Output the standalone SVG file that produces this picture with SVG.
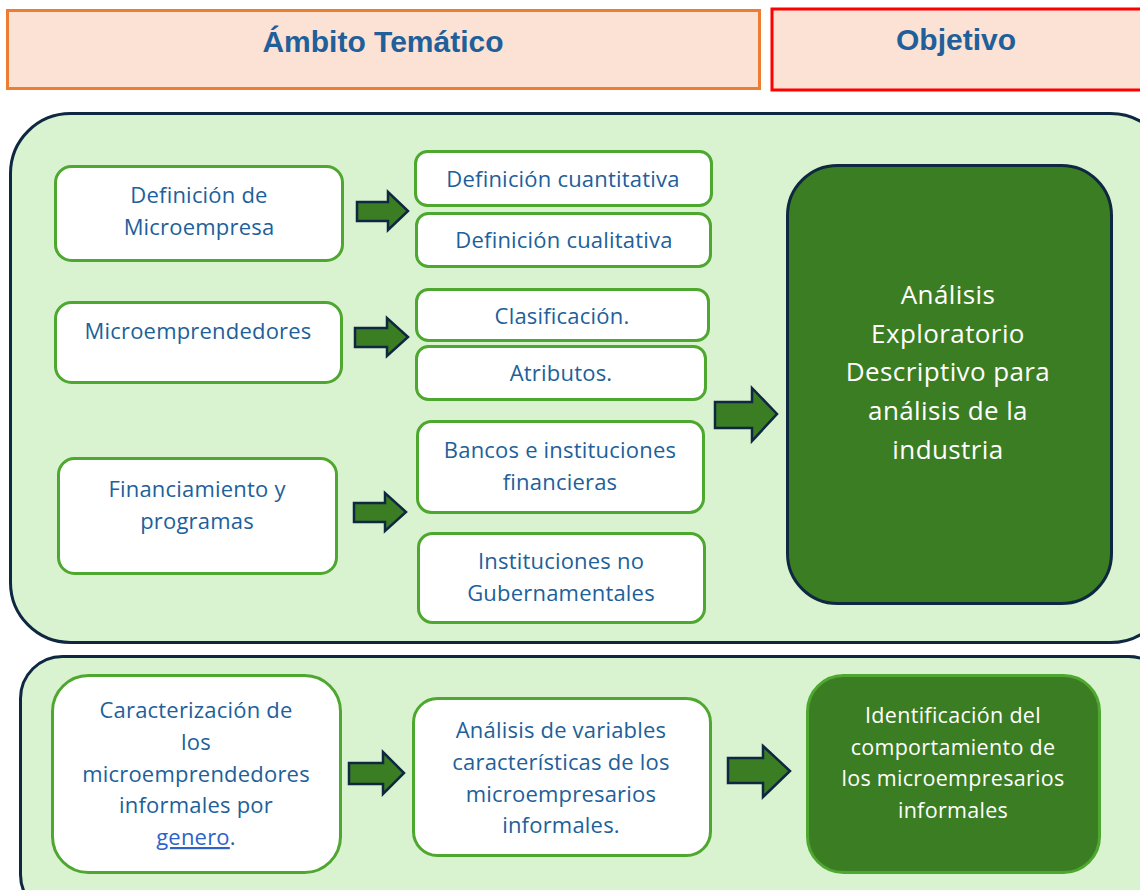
<svg xmlns="http://www.w3.org/2000/svg" width="1140" height="890" viewBox="0 0 1140 890">
<style>
.t{font-family:"Open Sans","Liberation Sans",Arial,sans-serif;font-size:22px;letter-spacing:0.2px;fill:#215F9A;text-anchor:middle}
.w{font-family:"Open Sans","Liberation Sans",Arial,sans-serif;fill:#FFFFFF;text-anchor:middle}
.b{font-size:26px;letter-spacing:0.4px}
.s{font-size:21.5px;letter-spacing:0.3px}
.h{font-family:"Liberation Sans",Arial,sans-serif;font-size:30px;font-weight:bold;fill:#215F9A;text-anchor:middle}
.n{fill:#FFFFFF;stroke:#4EA72E;stroke-width:3}
.g{fill:#3B7D23}
.panel{fill:#D9F2D0;stroke:#0E2841;stroke-width:3}
.arr{fill:#3B7D23;stroke:#0E2841;stroke-width:2.5;stroke-linejoin:miter}
</style>
<rect width="1140" height="890" fill="#FFFFFF"/>
<g id="header-ambito">
<rect x="7.5" y="10.5" width="752" height="78" fill="#FBE2D5" stroke="#ED7D31" stroke-width="3"/>
<text class="h" x="383" y="52">Ámbito Temático</text>
</g>
<g id="header-objetivo">
<rect x="772" y="9" width="372" height="81" fill="#FBE2D5" stroke="#FF0000" stroke-width="3"/>
<text class="h" x="956" y="50">Objetivo</text>
</g>
<g id="panel-1"><rect class="panel" x="10.5" y="113.5" width="1160" height="529" rx="60"/></g>
<g id="panel-2"><rect class="panel" x="20.5" y="656.5" width="1150" height="260" rx="42"/></g>

<g id="n-def-micro"><rect class="n" x="55.5" y="166.5" width="287" height="94" rx="16"/>
<text class="t" x="199" y="203">Definición de</text><text class="t" x="199" y="235">Microempresa</text></g>
<g id="n-def-cuant"><rect class="n" x="415.5" y="151.5" width="296" height="54" rx="12"/>
<text class="t" x="563" y="187">Definición cuantitativa</text></g>
<g id="n-def-cual"><rect class="n" x="416.5" y="213.5" width="294" height="53" rx="12"/>
<text class="t" x="564" y="248">Definición cualitativa</text></g>
<g id="n-microemp"><rect class="n" x="55.5" y="302.5" width="286" height="80" rx="16"/>
<text class="t" x="198" y="339">Microemprendedores</text></g>
<g id="n-clasif"><rect class="n" x="416.5" y="289.5" width="292" height="51" rx="12"/>
<text class="t" x="562" y="324">Clasificación.</text></g>
<g id="n-atrib"><rect class="n" x="416.5" y="346.5" width="289" height="53" rx="12"/>
<text class="t" x="561" y="381">Atributos.</text></g>
<g id="n-financ"><rect class="n" x="58.5" y="458.5" width="278" height="115" rx="16"/>
<text class="t" x="197" y="497">Financiamiento y</text><text class="t" x="197" y="529">programas</text></g>
<g id="n-bancos"><rect class="n" x="417.5" y="421.5" width="286" height="91" rx="14"/>
<text class="t" x="560" y="458">Bancos e instituciones</text><text class="t" x="560" y="490">financieras</text></g>
<g id="n-ong"><rect class="n" x="418.5" y="533.5" width="286" height="89" rx="14"/>
<text class="t" x="561" y="569">Instituciones no</text><text class="t" x="561" y="601">Gubernamentales</text></g>
<g id="n-analisis"><rect class="g" x="787.5" y="165.5" width="324" height="438" rx="50" stroke="#0E2841" stroke-width="3"/>
<text class="w b" x="948" y="304">Análisis</text>
<text class="w b" x="948" y="343">Exploratorio</text>
<text class="w b" x="948" y="381">Descriptivo para</text>
<text class="w b" x="948" y="420">análisis de la</text>
<text class="w b" x="948" y="459">industria</text></g>
<g id="n-caract"><rect class="n" x="52.5" y="675.5" width="288" height="197" rx="36"/>
<text class="t" x="196" y="718">Caracterización de</text>
<text class="t" x="196" y="750">los</text>
<text class="t" x="196" y="782">microemprendedores</text>
<text class="t" x="196" y="813">informales por</text>
<text class="t" x="196" y="845"><tspan fill="#2E62C9" text-decoration="underline">genero</tspan>.</text></g>
<g id="n-variables"><rect class="n" x="413.5" y="698.5" width="297" height="157" rx="24"/>
<text class="t" x="561" y="738">Análisis de variables</text>
<text class="t" x="561" y="770">características de los</text>
<text class="t" x="561" y="802">microempresarios</text>
<text class="t" x="561" y="833">informales.</text></g>
<g id="n-ident"><rect class="g" x="807.5" y="675.5" width="292" height="197" rx="36" stroke="#4EA72E" stroke-width="3"/>
<text class="w s" x="953" y="723">Identificación del</text>
<text class="w s" x="953" y="755">comportamiento de</text>
<text class="w s" x="953" y="786">los microempresarios</text>
<text class="w s" x="953" y="818">informales</text></g>

<g id="connectors">
<polygon class="arr" points="357,202 388,202 388,192 408,211 388,230 388,221 357,221"/>
<polygon class="arr" points="355,328 387,328 387,318 408,337 387,356 387,347 355,347"/>
<polygon class="arr" points="354,503 385,503 385,493 406,512 385,531 385,522 354,522"/>
<polygon class="arr" points="715,402 752,402 752,388 777,414 752,441 752,428 715,428"/>
<polygon class="arr" points="349,763 383,763 383,752 404,773 383,794 383,784 349,784"/>
<polygon class="arr" points="728,758 763,758 763,746 790,771 763,797 763,783 728,783"/>
</g>
</svg>
